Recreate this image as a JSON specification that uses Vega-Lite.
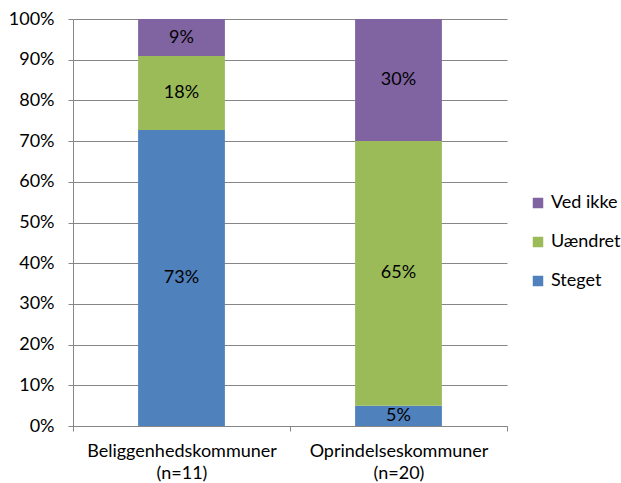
{
  "$schema": "https://vega.github.io/schema/vega-lite/v6.json",
  "autosize": "none",
  "width": 434,
  "height": 407,
  "padding": {"left": 73, "top": 19, "right": 114, "bottom": 57},
  "background": "white",
  "config": {
    "font": "Lato",
    "view": {"stroke": null},
    "axis": {"labelFont": "Lato", "labelFontSize": 18, "labelColor": "#000000", "domainColor": "#868686", "tickColor": "#868686", "gridColor": "#868686"}
  },
  "data": {
    "values": [
      {"kommune": "Beliggenhedskommuner\n(n=11)", "svar": "Steget", "andel": 0.727, "rank": 1},
      {"kommune": "Beliggenhedskommuner\n(n=11)", "svar": "Uændret", "andel": 0.182, "rank": 2},
      {"kommune": "Beliggenhedskommuner\n(n=11)", "svar": "Ved ikke", "andel": 0.091, "rank": 3},
      {"kommune": "Oprindelseskommuner\n(n=20)", "svar": "Steget", "andel": 0.05, "rank": 1},
      {"kommune": "Oprindelseskommuner\n(n=20)", "svar": "Uændret", "andel": 0.65, "rank": 2},
      {"kommune": "Oprindelseskommuner\n(n=20)", "svar": "Ved ikke", "andel": 0.30, "rank": 3}
    ]
  },
  "encoding": {
    "x": {
      "field": "kommune", "type": "nominal", "sort": null,
      "scale": {"paddingInner": 0, "paddingOuter": 0},
      "axis": {"title": null, "labelAngle": 0, "labelExpr": "isValid(datum.value) ? split(datum.value, '\\n') : ''", "labelLineHeight": 22, "labelPadding": 11, "labelLimit": 400, "tickBand": "extent", "tickSize": 5, "domainColor": "#868686"}
    },
    "y": {
      "field": "andel", "type": "quantitative", "stack": "zero",
      "scale": {"domain": [0, 1], "nice": false},
      "axis": {"title": null, "format": ".0%", "values": [0, 0.1, 0.2, 0.3, 0.4, 0.5, 0.6, 0.7, 0.8, 0.9, 1], "tickSize": 5, "labelPadding": 14, "grid": true, "domain": true}
    },
    "order": {"field": "rank", "type": "quantitative"}
  },
  "layer": [
    {
      "mark": {"type": "bar", "width": {"band": 0.4}},
      "encoding": {
        "color": {
          "field": "svar", "type": "nominal",
          "scale": {"domain": ["Ved ikke", "Uændret", "Steget"], "range": ["#8064A2", "#9BBB59", "#4F81BD"]},
          "legend": {"title": null, "orient": "none", "legendX": 456, "legendY": 175, "symbolType": "square", "symbolSize": 110, "symbolStrokeWidth": 0, "labelFont": "Lato", "labelFontSize": 18, "labelColor": "#000000", "rowPadding": 21, "labelOffset": 4}
        }
      }
    },
    {
      "mark": {"type": "text", "font": "Lato", "fontSize": 18, "color": "#000000"},
      "encoding": {
        "y": {"field": "andel", "type": "quantitative", "stack": "zero", "bandPosition": 0.5},
        "text": {"field": "andel", "type": "quantitative", "format": ".0%"}
      }
    }
  ]
}
